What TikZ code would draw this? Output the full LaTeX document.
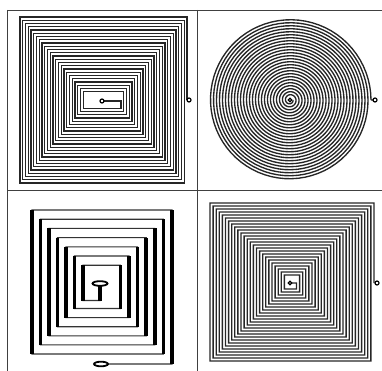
\documentclass[tikz,border=0pt]{standalone}
\usepackage{tikz}
\usetikzlibrary{calc}

\begin{document}
\begin{tikzpicture}[
  x=1pt, y=-1pt,
  frame/.style={draw=black!75, line width=0.9pt},
  coil/.style={draw=black!85, line width=1.35pt, line join=miter},
  thinh/.style={draw=black!80, line width=1.1pt},
  vbar/.style={draw=black, line width=3.6pt, line cap=butt},
  term/.style={draw=black, fill=white, line width=1.2pt},
  pad/.style={draw=black, fill=white, line width=1.8pt},
]
\useasboundingbox (0,0) rectangle (382,371);

%% ---- Frame ----
\draw[frame] (7,10) -- (382,10);
\draw[frame] (7,190) -- (382,190);
\draw[frame] (7,10) -- (7,371);
\draw[frame] (197,10) -- (197,371);

%% ---- Top left: rectangular spiral ----
\def\stepx{2.75}
\def\stepy{3.25}
\draw[coil] (187,100)
  \foreach \k in {0,...,23} {
    -- ({187-\k*\stepx},{17+\k*\stepy})
    -- ({20+\k*\stepx},{17+\k*\stepy})
    -- ({20+\k*\stepx},{183-\k*\stepy})
    -- ({187-(\k+1)*\stepx},{183-\k*\stepy})
  } -- (121,101) -- (104,101);
\coordinate (tlout) at (189,100);
\coordinate (tlin) at (102,101);
\draw[term] (tlout) circle [radius=2];
\draw[term] (tlin) circle [radius=2];

%% ---- Top right: circular spiral ----
\draw[coil] (373,100) -- (371,100)
  plot[domain=0:9360, samples=1900, variable=\t]
  ({290+(81-\t/120)*cos(\t)}, {100-(81-\t/120)*sin(\t)});
\coordinate (trout) at (375,100);
\coordinate (trin) at (290,100);
\draw[term] (trout) circle [radius=2];
\draw[term] (trin) circle [radius=1.8];

%% ---- Bottom left: coarse spiral ----
\draw[thinh] (100,364) -- (172,364)
  \foreach \k in {0,...,5} {
    -- ({172-\k*8.6},{210+\k*9.2})
    -- ({32+\k*8.5},{210+\k*9.2})
    -- ({32+\k*8.5},{354-\k*9.1})
    -- ({172-(\k+1)*8.6},{354-\k*9.1})
  } -- (120.4,265.2) -- (83,265.2) -- (83,300.5) -- (100,300.5) -- (100,284);
\draw[vbar] (172,364) -- (172,210);
\foreach \k in {0,...,5} {
  \draw[vbar] ({32+\k*8.5},{210+\k*9.2}) -- ({32+\k*8.5},{354-\k*9.1});
  \draw[vbar] ({172-(\k+1)*8.6},{354-\k*9.1}) -- ({172-(\k+1)*8.6},{210+(\k+1)*9.2});
}
\draw[vbar] (83,265.2) -- (83,300.5);
\draw[vbar] (100,300.5) -- (100,284);
\coordinate (blout) at (101,364);
\coordinate (blin) at (100,283.5);
\draw[pad] (blout) ellipse [x radius=7, y radius=2.3];
\draw[pad] (blin) ellipse [x radius=7.5, y radius=2.3];

%% ---- Bottom right: square spiral ----
\def\stepx{3.1}
\def\stepy{3}
\draw[coil] (374,283)
  \foreach \k in {0,...,24} {
    -- ({374-\k*\stepx},{203+\k*\stepy})
    -- ({210+\k*\stepx},{203+\k*\stepy})
    -- ({210+\k*\stepx},{361-\k*\stepy})
    -- ({374-(\k+1)*\stepx},{361-\k*\stepy})
  } -- (296.5,283) -- (292,283);
\coordinate (brout) at (377,283);
\coordinate (brin) at (290,283);
\draw[term] (brout) circle [radius=2];
\draw[term] (brin) circle [radius=1.8];

\end{tikzpicture}
\end{document}
